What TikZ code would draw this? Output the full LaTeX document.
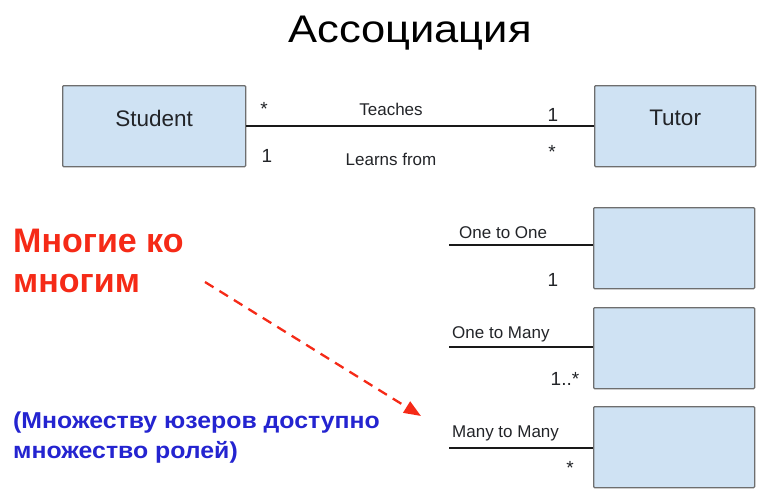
\documentclass[tikz,border=0pt]{standalone}
\usepackage{fontspec}
\setmainfont{Liberation Sans}
\newfontfamily\titlefont[FakeStretch=1.13]{Liberation Sans}
\newfontfamily\notefont[FakeStretch=1.08]{Liberation Sans}
\usetikzlibrary{arrows.meta}
\definecolor{boxfill}{HTML}{CFE2F3}
\definecolor{boxline}{HTML}{6E6E6E}
\definecolor{hotred}{HTML}{F52A17}
\definecolor{deepblue}{HTML}{2424D0}
\definecolor{ink}{HTML}{222428}
\tikzset{
  classbox/.style={draw=boxline, line width=1.3pt, fill=boxfill, rounded corners=1pt,
    minimum width=183pt, minimum height=81pt, anchor=north west, inner sep=0pt},
  smallbox/.style={classbox, minimum width=161pt},
  boxtext/.style={inner sep=0pt, font=\fontsize{22.5}{26}\selectfont, text=ink},
  assoc/.style={line width=2.6pt, black!90},
  sideline/.style={line width=1.9pt, black!90},
  lbl/.style={inner sep=0pt, anchor=base, font=\fontsize{17}{20}\selectfont, text=ink},
  mult/.style={inner sep=0pt, anchor=base, font=\fontsize{19}{22}\selectfont, text=ink},
  hint/.style={dash pattern=on 10pt off 7pt, line width=2.3pt, hotred,
    -{Triangle[length=17pt,width=13pt]}}
}
\begin{document}
\begin{tikzpicture}[x=1pt, y=-1pt]
\useasboundingbox (0,0) rectangle (776,498);

% title
\node[inner sep=0pt, anchor=base, font=\titlefont\fontsize{38.5}{44}\selectfont] (title) at (410,42) {Ассоциация};

% Student -- Tutor association
\node[classbox] (student) at (62,85) {};
\node[classbox, minimum width=161pt] (tutor) at (594,85) {};
\node[boxtext] (studentname) at ([yshift=8pt]student.center) {Student};
\node[boxtext] (tutorname) at ([yshift=8pt]tutor.center) {Tutor};
\draw[assoc] (student.east) -- (tutor.west);
\node[mult] (s1) at (264,115) {*};
\node[lbl]  (teach) at (391,115) {Teaches};
\node[mult] (t1) at (553,121) {1};
\node[mult] (s2) at (267,162) {1};
\node[lbl]  (learn) at (391,165) {Learns from};
\node[mult] (t2) at (552,158) {*};

% multiplicity examples
\node[smallbox] (b1) at (593,207) {};
\node[smallbox] (b2) at (593,307) {};
\node[smallbox] (b3) at (593,406) {};
\coordinate (e1) at (449,245);
\coordinate (e2) at (449,347);
\coordinate (e3) at (449,448);
\draw[sideline] (e1) -- (e1 -| b1.west);
\draw[sideline] (e2) -- (e2 -| b2.west);
\draw[sideline] (e3) -- (e3 -| b3.west);
\node[lbl, anchor=base west] (o1) at (459,238) {One to One};
\node[mult] (m1) at (553,286) {1};
\node[lbl, anchor=base west] (o2) at (452,338) {One to Many};
\node[mult] (m2) at (565,385) {1..*};
\node[lbl, anchor=base west] (o3) at (452,437) {Many to Many};
\node[mult] (m3) at (570,474) {*};

% side notes (base anchor sits on the last line)
\node[anchor=base west, inner sep=0pt, align=left, text=hotred,
  font=\bfseries\fontsize{34}{40}\selectfont] (many) at (13,292) {Многие ко\\многим};
\node[anchor=base west, inner sep=0pt, align=left, text=deepblue,
  font=\notefont\bfseries\fontsize{23}{30}\selectfont] (note) at (13,458) {(Множеству юзеров доступно\\множество ролей)};
\coordinate (as) at (205,282);
\coordinate (ae) at (421,416);
\draw[hint] (as) -- (ae);
\end{tikzpicture}
\end{document}
